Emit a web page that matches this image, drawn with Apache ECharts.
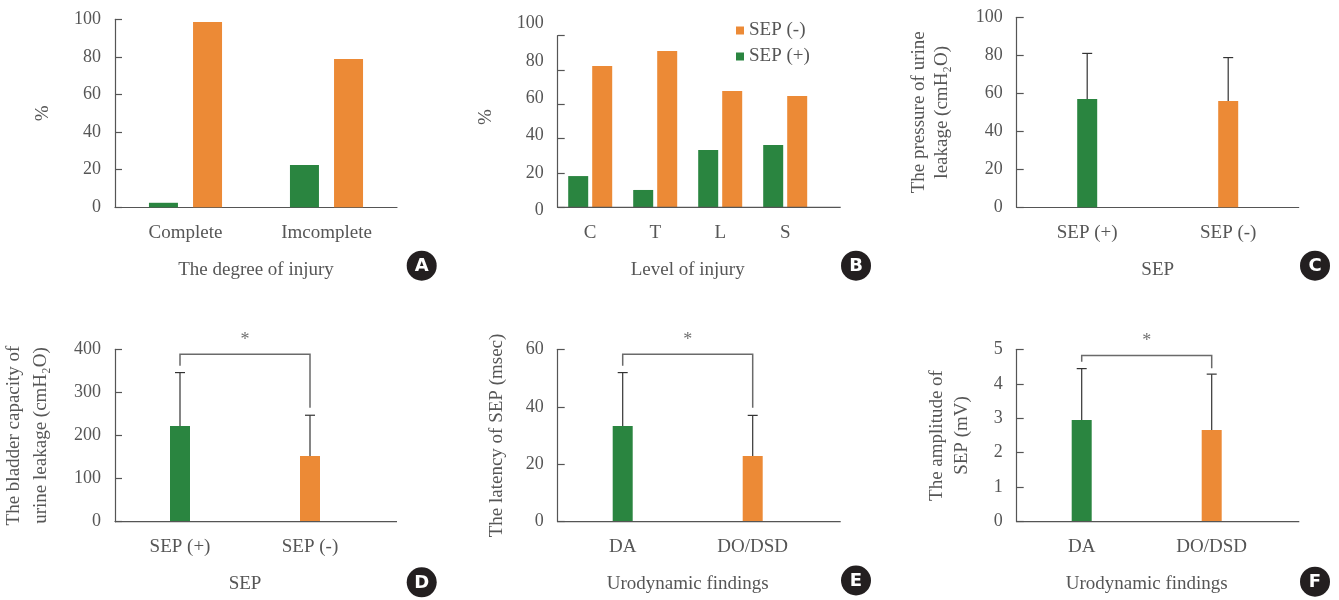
<!DOCTYPE html>
<html><head><meta charset="utf-8">
<script src="https://cdn.jsdelivr.net/npm/echarts@6/dist/echarts.min.js"></script>
<style>html,body{margin:0;padding:0;background:#fff}#c{width:1339px;height:600px}</style>
</head><body><div id="c"></div>
<script>
// ---------- data ----------
const catA = ['Complete', 'Imcomplete'];
const sepPosA = [2.4, 22.5];
const sepNegA = [98.6, 78.9];

const catB = ['C', 'T', 'L', 'S'];
const sepPosB = [18.2, 10.1, 33.4, 36.3];
const sepNegB = [82.3, 91.1, 67.8, 64.9];

const catC = ['SEP (+)', 'SEP (-)'];
const meanC = [57.0, 55.9];
const sdC = [24.0, 22.9];

const catD = ['SEP (+)', 'SEP (-)'];
const meanD = [222, 152.5];
const sdD = [124, 94.5];
const bracketD = [388.6, 362, 264.6];   // top, left end, right end

const catE = ['DA', 'DO/DSD'];
const meanE = [33.3, 22.9];
const sdE = [18.6, 14.1];
const bracketE = [58.3, 54.3, 39.7];

const catF = ['DA', 'DO/DSD'];
const meanF = [2.95, 2.66];
const sdF = [1.49, 1.62];
const bracketF = [4.82, 4.64, 4.45];

const yTicksA = [0, 100, 20];
const yTicksB = [0, 100, 20];
const yTicksC = [0, 100, 20];
const yTicksD = [0, 400, 100];
const yTicksE = [0, 60, 20];
const yTicksF = [0, 5, 1];

// ---------- style ----------
const GREEN = '#2a8540', ORANGE = '#ec8a36';
const TXT = '#565656', AX = '#555';
const FONT = 'Liberation Serif';
const pairColors = [GREEN, ORANGE];

const chart = echarts.init(document.getElementById('c'), null, {renderer: 'canvas'});

const grids = [
  {left: 115, top: 19.3, width: 282, height: 188},       // A
  {left: 557.7, top: 35.7, width: 260, height: 171.6},   // B
  {left: 1016.7, top: 17.3, width: 282, height: 190},    // C
  {left: 115, top: 349.3, width: 260, height: 172.4},    // D
  {left: 557.7, top: 349.3, width: 260, height: 172.4},  // E
  {left: 1016.7, top: 349.3, width: 260, height: 172.4}, // F
  {left: 557.7, top: 23.3, width: 260, height: 187.4}    // B label axis
];
const extRight = [397, 840.7, 1298.7, 397, 840.7, 1299.3];

function xAx(gi, cats, name) {
  return {
    type: 'category', gridIndex: gi, data: cats,
    axisLine: {lineStyle: {color: AX, width: 1.2}},
    axisTick: {show: false},
    axisLabel: {color: TXT, fontFamily: FONT, fontSize: 19, margin: 16},
    name: name, nameLocation: 'middle', nameGap: 53,
    nameTextStyle: {color: TXT, fontFamily: FONT, fontSize: 19}
  };
}
function yAx(gi, t, name, gap, lh, showLabel) {
  return {
    type: 'value', gridIndex: gi, min: t[0], max: t[1], interval: t[2],
    axisLine: {show: true, lineStyle: {color: AX, width: 1.2}},
    axisTick: {show: true, inside: true, length: 7, lineStyle: {color: AX, width: 1.2}},
    axisLabel: {show: showLabel !== false, color: TXT, fontFamily: FONT, fontSize: 18, margin: 14},
    splitLine: {show: false},
    name: name, nameLocation: 'middle', nameGap: gap, nameRotate: 90,
    nameTextStyle: {color: TXT, fontFamily: FONT, fontSize: 19, lineHeight: lh}
  };
}

const xAxis = [
  xAx(0, catA, 'The degree of injury'),
  xAx(1, catB, 'Level of injury'),
  xAx(2, catC, 'SEP'),
  xAx(3, catD, 'SEP'),
  xAx(4, catE, 'Urodynamic findings'),
  xAx(5, catF, 'Urodynamic findings'),
  {type: 'category', gridIndex: 6, data: catB, show: false}
];
const yAxis = [
  yAx(0, yTicksA, '%', 62, 20),
  yAx(1, yTicksB, '', 62, 20, false),
  yAx(2, yTicksC, 'The pressure of urine\nleakage (cmH\u2082O)', 63, 23),
  yAx(3, yTicksD, 'The bladder capacity of\nurine leakage (cmH\u2082O)', 60, 27),
  yAx(4, yTicksE, 'The latency of SEP (msec)', 51, 20),
  yAx(5, yTicksF, 'The amplitude of\nSEP (mV)', 42, 25),
  Object.assign(yAx(6, yTicksB, '%', 62, 20), {axisLine: {show: false}, axisTick: {show: false}})
];

function errRender(params, api) {
  const i = api.value(0), m = api.value(1), t = api.value(2);
  const p0 = api.coord([i, m]), p1 = api.coord([i, t]);
  const st = {stroke: '#333', lineWidth: 1.2};
  return {type: 'group', children: [
    {type: 'line', shape: {x1: p0[0], y1: p0[1], x2: p1[0], y2: p1[1]}, style: st},
    {type: 'line', shape: {x1: p1[0] - 5, y1: p1[1], x2: p1[0] + 5, y2: p1[1]}, style: st}
  ]};
}
function brRender(params, api) {
  const i0 = api.value(0), top = api.value(1), i1 = api.value(2), l = api.value(3), r = api.value(4);
  const a = api.coord([i0, l]), b = api.coord([i0, top]), c = api.coord([i1, top]), d = api.coord([i1, r]);
  return {type: 'group', children: [
    {type: 'polyline', shape: {points: [a, b, c, d]}, style: {stroke: '#6a6a6a', lineWidth: 1.5, fill: null}},
    {type: 'text', x: (b[0] + c[0]) / 2, y: b[1] - 14,
     style: {text: '*', fontFamily: FONT, fontSize: 18, fill: '#707070', align: 'center', verticalAlign: 'middle'}}
  ]};
}

function singleBars(gi, name, vals) {
  return {type: 'bar', name: name, xAxisIndex: gi, yAxisIndex: gi, barWidth: 20,
    data: vals.map((v, i) => ({value: v, itemStyle: {color: pairColors[i]}}))};
}
function errSeries(gi, means, sds) {
  return {type: 'custom', xAxisIndex: gi, yAxisIndex: gi, z: 5, renderItem: errRender,
    data: means.map((m, i) => [i, m, m + sds[i]])};
}
function brSeries(gi, br) {
  return {type: 'custom', xAxisIndex: gi, yAxisIndex: gi, z: 5, renderItem: brRender,
    data: [[0, br[0], 1, br[1], br[2]]]};
}

const series = [
  {type: 'bar', name: 'A SEP (+)', xAxisIndex: 0, yAxisIndex: 0, data: sepPosA, barWidth: 29, barGap: '52%', itemStyle: {color: GREEN}},
  {type: 'bar', name: 'A SEP (-)', xAxisIndex: 0, yAxisIndex: 0, data: sepNegA, barWidth: 29, barGap: '52%', itemStyle: {color: ORANGE}},
  {type: 'bar', name: 'SEP (+)', xAxisIndex: 1, yAxisIndex: 1, data: sepPosB, barWidth: 20, barGap: '20%', itemStyle: {color: GREEN}},
  {type: 'bar', name: 'SEP (-)', xAxisIndex: 1, yAxisIndex: 1, data: sepNegB, barWidth: 20, barGap: '20%', itemStyle: {color: ORANGE}},
  singleBars(2, 'C', meanC), errSeries(2, meanC, sdC),
  singleBars(3, 'D', meanD), errSeries(3, meanD, sdD), brSeries(3, bracketD),
  singleBars(4, 'E', meanE), errSeries(4, meanE, sdE), brSeries(4, bracketE),
  singleBars(5, 'F', meanF), errSeries(5, meanF, sdF), brSeries(5, bracketF)
];

// decorations: axis-line extensions and panel letters
const graphic = [];
[1, 3, 4, 5].forEach(gi => {
  const g = grids[gi];
  const y = g.top + g.height;
  graphic.push({type: 'line', silent: true, z: 10, shape: {x1: g.left, y1: y, x2: extRight[gi], y2: y},
    style: {stroke: AX, lineWidth: 1.2}});
});
const letters = [['A', 421.7, 265.7], ['B', 856, 265.7], ['C', 1315, 265.7],
                 ['D', 421.7, 582.3], ['E', 856, 580.5], ['F', 1315, 581.7]];
letters.forEach(([t, x, y]) => {
  graphic.push({type: 'circle', silent: true, shape: {cx: x, cy: y, r: 15}, style: {fill: '#231f20'}});
  graphic.push({type: 'text', silent: true, x: x, y: y + 1,
    style: {text: t, fill: '#fff', fontFamily: 'DejaVu Sans', fontWeight: 'bold', fontSize: 18, align: 'center', verticalAlign: 'middle'}});
});

chart.setOption({
  animation: false,
  textStyle: {fontFamily: FONT},
  grid: grids.map(g => Object.assign({containLabel: false}, g)),
  xAxis: xAxis, yAxis: yAxis, series: series,
  legend: {
    data: ['SEP (-)', 'SEP (+)'], orient: 'vertical', left: 731, top: 16,
    icon: 'rect', itemWidth: 8, itemHeight: 8, itemGap: 7,
    textStyle: {color: TXT, fontFamily: FONT, fontSize: 19}
  },
  graphic: graphic
});
</script></body></html>
